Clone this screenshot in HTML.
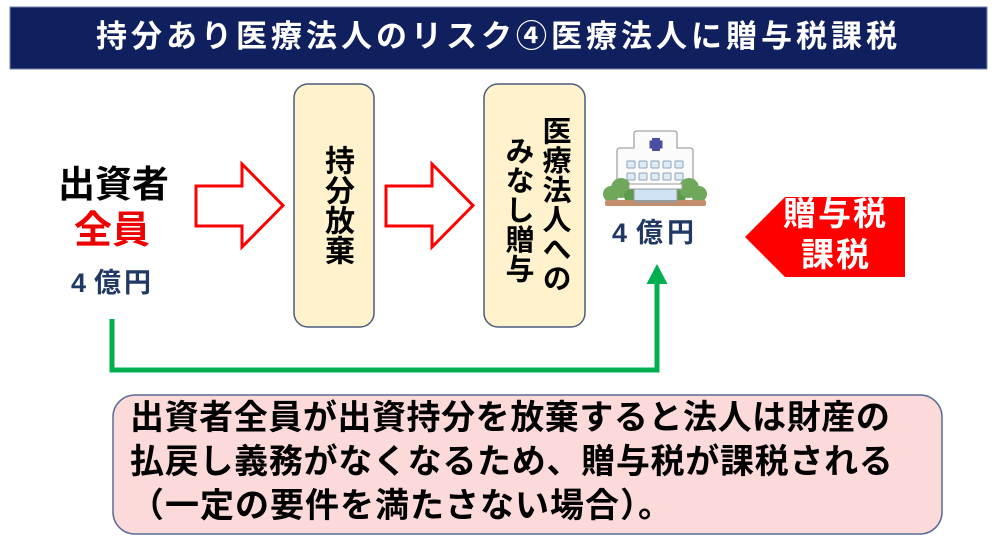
<!DOCTYPE html>
<html><head><meta charset="utf-8">
<style>
html,body{margin:0;padding:0;background:#fff;}
#c{position:relative;width:1000px;height:547px;overflow:hidden;background:#fff;
font-family:"Liberation Sans","Noto Sans CJK JP",sans-serif;font-weight:bold;}
.t{position:absolute;white-space:nowrap;}
.v{position:absolute;writing-mode:vertical-rl;white-space:nowrap;}
.f{position:absolute;display:flex;justify-content:space-between;white-space:nowrap;}
.f span{display:block;}
svg{position:absolute;left:0;top:0;}
</style></head><body>
<div id="c">
<svg width="1000" height="547" viewBox="0 0 1000 547">
  <rect x="10" y="7" width="977" height="62" fill="#10205e" stroke="#7080b0" stroke-width="1"/>
  <rect x="294" y="84" width="80" height="243" rx="14" fill="#fff2cc" stroke="#4d5b7c" stroke-width="1.5"/>
  <rect x="484" y="84" width="101" height="243" rx="14" fill="#fff2cc" stroke="#4d5b7c" stroke-width="1.5"/>
  <polygon points="196,186 242,186 242,164 283,205.5 242,247 242,226 196,226" fill="#fff" stroke="#ff0000" stroke-width="3"/>
  <polygon points="386,186 432,186 432,164 473,205.5 432,247 432,226 386,226" fill="#fff" stroke="#ff0000" stroke-width="3"/>
  <g>
    <path d="M617,203 V151 Q617,148 620,148 H634 V134 Q634,131 637,131 H674 Q677,131 677,134 V148 H690 Q693,148 693,151 V203 Z" fill="#fbfbfb" stroke="#a5a5a5" stroke-width="1.3"/>
    <rect x="652" y="138" width="8" height="13" fill="#4b4fa0"/>
    <rect x="649.5" y="140.5" width="13" height="8" fill="#4b4fa0"/>
    <g fill="#dcebf6" stroke="#8fa3b8" stroke-width="1">
      <rect x="627" y="161" width="8" height="7" rx="1"/><rect x="639" y="161" width="8" height="7" rx="1"/><rect x="651" y="161" width="8" height="7" rx="1"/><rect x="663" y="161" width="8" height="7" rx="1"/><rect x="675" y="161" width="8" height="7" rx="1"/>
      <rect x="627" y="173" width="8" height="7" rx="1"/><rect x="639" y="173" width="8" height="7" rx="1"/><rect x="651" y="173" width="8" height="7" rx="1"/><rect x="663" y="173" width="8" height="7" rx="1"/><rect x="675" y="173" width="8" height="7" rx="1"/>
    </g>
    <g fill="#6fa85a">
      <circle cx="611" cy="194" r="8"/>
      <circle cx="621" cy="188" r="10"/>
      <circle cx="631" cy="196" r="7" fill="#5f9a4c"/>
      <circle cx="679" cy="196" r="7" fill="#5f9a4c"/>
      <circle cx="689" cy="188" r="10"/>
      <circle cx="699" cy="194" r="8"/>
    </g>
    <rect x="634" y="189" width="43" height="13" fill="#cfe3f4" stroke="#9a9a9a" stroke-width="1"/>
    <rect x="629" y="184" width="53" height="5" fill="#fff" stroke="#9a9a9a" stroke-width="1"/>
    <rect x="605" y="200" width="101" height="6" rx="2" fill="#c48d6c"/>
    <rect x="634" y="200" width="43" height="3" fill="#9a9a9a"/>
  </g>
  <polygon points="745,237 785,197 905,197 905,277 785,277" fill="#ff0000"/>
  <path d="M112,319 V370 H657 V282" fill="none" stroke="#00b050" stroke-width="5" stroke-linejoin="miter"/>
  <polygon points="646.5,284 667.5,284 657,264" fill="#00b050"/>
  <rect x="113" y="395" width="829" height="139" rx="22" fill="#fddada" stroke="#5a6a9a" stroke-width="1.5"/>
</svg>

<div class="t" style="left:96px;top:21px;font-size:31px;line-height:31px;letter-spacing:4px;color:#fff;">持分あり医療法人のリスク④医療法人に贈与税課税</div>

<div class="t" style="left:58px;top:166px;font-size:37px;line-height:37px;color:#000;">出資者</div>
<div class="t" style="left:74px;top:212px;font-size:38px;line-height:38px;color:#ee0000;">全員</div>
<div class="t" style="left:71px;top:270px;font-size:27px;line-height:27px;color:#1f3864;">4<span style="margin-left:8px;letter-spacing:3px;">億円</span></div>

<div class="v" style="left:321px;top:145px;width:30px;height:120px;font-size:30px;line-height:30px;color:#000;">持分放棄</div>
<div class="v" style="left:539px;top:116px;width:29px;height:180px;font-size:29px;line-height:29px;letter-spacing:0.5px;color:#000;">医療法人への</div>
<div class="v" style="left:502px;top:136px;width:29px;height:150px;font-size:29px;line-height:29px;letter-spacing:0.5px;color:#000;">みなし贈与</div>

<div class="t" style="left:612px;top:220px;font-size:27px;line-height:27px;color:#1f3864;">4<span style="margin-left:9px;letter-spacing:4px;">億円</span></div>

<div class="t" style="left:783px;top:197px;font-size:33px;line-height:33px;letter-spacing:2px;color:#fff;">贈与税</div>
<div class="t" style="left:801px;top:238px;font-size:33px;line-height:33px;letter-spacing:2px;color:#fff;">課税</div>

<div class="f" style="left:130px;top:401px;width:760px;font-size:34px;line-height:34px;color:#000;"><span>出</span><span>資</span><span>者</span><span>全</span><span>員</span><span>が</span><span>出</span><span>資</span><span>持</span><span>分</span><span>を</span><span>放</span><span>棄</span><span>す</span><span>る</span><span>と</span><span>法</span><span>人</span><span>は</span><span>財</span><span>産</span><span>の</span></div>
<div class="f" style="left:130px;top:445px;width:763px;font-size:34px;line-height:34px;color:#000;"><span>払</span><span>戻</span><span>し</span><span>義</span><span>務</span><span>が</span><span>な</span><span>く</span><span>な</span><span>る</span><span>た</span><span>め</span><span>、</span><span>贈</span><span>与</span><span>税</span><span>が</span><span>課</span><span>税</span><span>さ</span><span>れ</span><span>る</span></div>
<div class="t" style="left:130px;top:489px;font-size:34px;line-height:34px;letter-spacing:1px;color:#000;">（一定の要件を満たさない場合）。</div>
</div>
</body></html>
